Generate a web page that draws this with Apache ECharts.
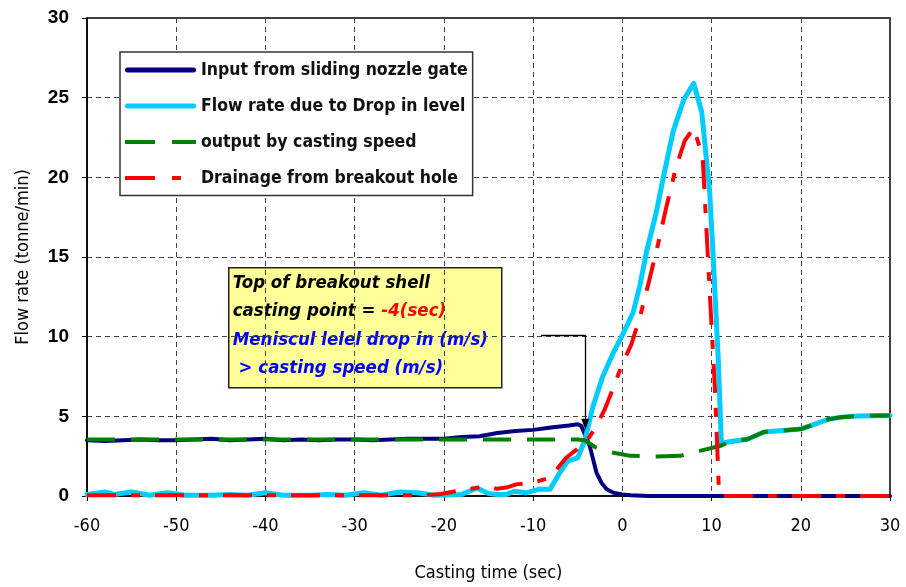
<!DOCTYPE html>
<html><head><meta charset="utf-8">
<script src="https://cdn.jsdelivr.net/npm/echarts@6/dist/echarts.min.js"></script>
<style>html,body{margin:0;padding:0;background:#fff}#c{width:906px;height:587px}</style>
</head><body><div id="c"></div>
<script>
// Casting time (sec) / Flow rate (tonne/min) pairs
var nozzleInput = [[-60,3.5],[-58,3.45],[-56,3.5],[-54,3.55],[-52,3.5],[-50,3.5],[-48,3.55],[-46,3.6],[-44,3.5],[-42,3.55],[-40,3.6],[-38,3.5],[-36,3.55],[-34,3.5],[-32,3.55],[-30,3.55],[-28,3.5],[-26,3.55],[-24,3.6],[-22,3.6],[-20,3.6],[-18,3.7],[-16,3.75],[-14,3.95],[-12,4.08],[-10,4.15],[-8,4.3],[-6,4.42],[-5,4.5],[-4.6,4.4],[-3.65,3.13],[-2.9,1.47],[-2.3,0.8],[-1.75,0.42],[-1,0.2],[0,0.1],[1,0.04],[3,0],[30,0]];
var levelDrop = [[-60,0.1],[-58,0.25],[-57,0.1],[-55,0.25],[-53,0.05],[-51,0.2],[-49,0.05],[-46,0.05],[-44,0.1],[-42,0.05],[-40,0.2],[-38,0.05],[-35,0.05],[-33,0.1],[-31,0.05],[-29,0.2],[-27,0.05],[-25,0.25],[-23,0.2],[-21,0.05],[-18,0.1],[-16.3,0.5],[-15,0.15],[-14,0.1],[-13,0.1],[-12.1,0.3],[-10.8,0.2],[-9.4,0.42],[-8.1,0.42],[-7,1.47],[-6.1,2.2],[-5,2.4],[-4.2,3.5],[-3.3,5.6],[-2.2,7.5],[-1,9],[0,10.1],[1.2,11.5],[2,13.3],[2.7,15.3],[3.8,17.8],[4.6,20],[5.7,22.9],[6.9,24.9],[8,25.9],[8.9,24.1],[9.8,19],[10.2,14.8],[10.75,8.6],[11.1,3.3],[12,3.4],[14,3.56],[15.9,4.02],[20,4.2],[21.5,4.5],[23,4.8],[24.5,4.95],[26.3,5.02],[30,5.06]];
var castingOutput = [[-60,3.55],[-5,3.55],[-4.2,3.5],[-3,3.05],[-1.2,2.73],[0.9,2.52],[3.5,2.48],[6.5,2.52],[8.7,2.83],[11,3.15],[12,3.4],[14,3.56],[15.9,4.02],[20,4.2],[21.5,4.5],[23,4.8],[24.5,4.95],[26.3,5.02],[30,5.06]];
var breakoutDrain = [[-60,0.05],[-22,0.05],[-20.4,0.12],[-17.8,0.38],[-15.5,0.59],[-14.1,0.46],[-13,0.53],[-11.9,0.73],[-10,0.84],[-8.1,1.15],[-6.3,2.4],[-5.1,2.93],[-4,3.45],[-3,4.3],[-2,5.4],[-1,6.8],[0,8.3],[1,9.5],[2,11.3],[3,13.5],[4,15.8],[5,18.3],[6,20.6],[7,22.3],[8,23.1],[9,21.3],[9.8,12.75],[10.4,6.5],[10.8,0.65],[11,0],[30,0]];
var arrowPath = [[-9.1,10.1],[-4.15,10.1],[-4.15,4.5]];
var seriesNames = ['Input from sliding nozzle gate','Flow rate due to Drop in level','output by casting speed','Drainage from breakout hole'];
var xTicks = {min:-60, max:30, interval:10};
var yTicks = {min:0, max:30, interval:5};

var narrow = "'DejaVu Sans Condensed','DejaVu Sans',sans-serif";
var edge = 'M70.99,0H71V5H70.99Z';
var legendIcons = [
  'path://M2.5,0H68.5A2.5,2.5,0,0,1,68.5,5H2.5A2.5,2.5,0,0,1,2.5,0Z',
  'path://M2.5,0H68.5A2.5,2.5,0,0,1,68.5,5H2.5A2.5,2.5,0,0,1,2.5,0Z',
  'path://M0,0.5H30V4.5H0Z M47,0.5H71V4.5H47Z ' + edge,
  'path://M0,0.5H30V4.5H0Z M47,0.5H56V4.5H47Z ' + edge
];
var chart = echarts.init(document.getElementById('c'), null, {renderer:'canvas'});
chart.setOption({
  animation:false,
  backgroundColor:'#fff',
  grid:{left:87, right:16, top:18, bottom:90, show:true, borderColor:'#000', borderWidth:1.5, backgroundColor:'transparent'},
  xAxis:{type:'value', min:xTicks.min, max:xTicks.max, interval:xTicks.interval,
    name:'Casting time (sec)', nameLocation:'middle', nameGap:68,
    nameTextStyle:{fontFamily:narrow, fontSize:18, color:'#000'},
    axisLine:{show:true, onZero:false, lineStyle:{color:'#000', width:1.5}},
    axisTick:{show:true, length:5, lineStyle:{color:'#000'}},
    axisLabel:{margin:21, fontFamily:narrow, fontSize:18, color:'#000'},
    splitLine:{show:true, lineStyle:{color:'#444', type:[5,4], width:1}}},
  yAxis:{type:'value', min:yTicks.min, max:yTicks.max, interval:yTicks.interval,
    name:'Flow rate (tonne/min)', nameLocation:'middle', nameGap:55,
    nameTextStyle:{fontFamily:narrow, fontSize:18, color:'#000'},
    axisLine:{show:true, onZero:false, lineStyle:{color:'#000', width:1.5}},
    axisTick:{show:true, length:5, lineStyle:{color:'#000'}},
    axisLabel:{margin:18, fontFamily:"'Liberation Sans',Arial,sans-serif", fontWeight:'bold', fontSize:19, color:'#000'},
    splitLine:{show:true, lineStyle:{color:'#444', type:[5,4], width:1}}},
  legend:{orient:'vertical', left:120, top:52, itemWidth:71, itemHeight:5, itemGap:16,
    padding:[8,5,7.5,5], backgroundColor:'#fff', borderColor:'#333', borderWidth:1.5,
    itemStyle:{borderWidth:0},
    textStyle:{fontFamily:narrow, fontWeight:'bold', fontSize:17.5, lineHeight:20, color:'#111'},
    data:seriesNames.map(function(n,i){return {name:n, icon:legendIcons[i]};})},
  series:[
    {name:seriesNames[0], type:'line', data:nozzleInput, showSymbol:false, symbol:'none',
      lineStyle:{color:'#000080', width:4, cap:'round', join:'round'}, itemStyle:{color:'#000080'}},
    {name:seriesNames[1], type:'line', data:levelDrop, showSymbol:false, symbol:'none',
      lineStyle:{color:'#00ccff', width:5, cap:'round', join:'round'}, itemStyle:{color:'#00ccff'}},
    {name:seriesNames[2], type:'line', data:castingOutput, showSymbol:false, symbol:'none',
      lineStyle:{color:'#008000', width:4, type:[28,16]}, itemStyle:{color:'#008000'}},
    {name:seriesNames[3], type:'line', data:breakoutDrain, showSymbol:false, symbol:'none',
      lineStyle:{color:'#ff0000', width:4, type:[29,15,9,15]}, itemStyle:{color:'#ff0000'}},
    {name:'arrow', type:'line', data:[], silent:true,
      markLine:{silent:true, animation:false, symbol:['none','none'], label:{show:false},
        lineStyle:{color:'#000', width:1.3, type:'solid'},
        data:[[{coord:arrowPath[0]},{coord:arrowPath[1]}],
              [{coord:arrowPath[1]},{coord:arrowPath[2], symbol:'triangle', symbolSize:[8,11], symbolRotate:180}]]}}
  ],
  graphic:[{type:'group', left:228, top:267, children:[
    {type:'rect', shape:{x:0,y:0,width:273,height:120}, style:{fill:'#ffff99', stroke:'#222', lineWidth:1.5}},
    {type:'text', x:4, y:1, style:{
      text:'{k|Top of breakout shell}\n{k|casting point = }{r|-4(sec)}\n{b|Meniscul lelel drop in (m/s)}\n{b| > casting speed (m/s)}',
      fontFamily:narrow, fontStyle:'italic', fontWeight:'bold', fontSize:18.5, lineHeight:28.5,
      rich:{k:{fill:'#000', fontFamily:narrow, fontStyle:'italic', fontWeight:'bold', fontSize:18.5, lineHeight:28.5},
            r:{fill:'#ff0000', fontFamily:narrow, fontStyle:'italic', fontWeight:'bold', fontSize:18.5, lineHeight:28.5},
            b:{fill:'#0000ff', fontFamily:narrow, fontStyle:'italic', fontWeight:'bold', fontSize:18.5, lineHeight:28.5}}}}
  ]}]
});
</script></body></html>
